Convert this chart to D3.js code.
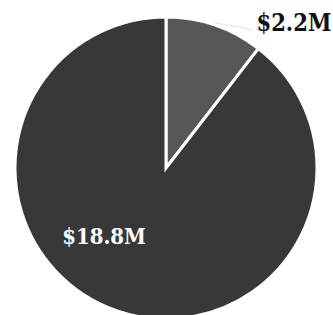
<!DOCTYPE html>
<html>
<head>
<meta charset="utf-8">
<script src="https://cdn.jsdelivr.net/npm/d3@7"></script>
<style>
  body { margin: 0; background: #fff; }
  svg { display: block; }
</style>
</head>
<body>
<div id="chart"></div>
<script>
const width = 333;
const height = 315;

// data
const labels = ['$2.2M', '$18.8M'];
const values = [2.2, 18.8];
const colors = ['#575757', '#383838'];

const cx = 166, cy = 168, radius = 151;

const svg = d3.select('#chart')
  .append('svg')
  .attr('width', width)
  .attr('height', height);

const g = svg.append('g')
  .attr('transform', `translate(${cx},${cy})`);

const pie = d3.pie().sort(null).value(d => d);
const arcs = pie(values);

const arc = d3.arc().innerRadius(0).outerRadius(radius);

g.selectAll('path')
  .data(arcs)
  .join('path')
  .attr('d', arc)
  .attr('fill', (d, i) => colors[i])
  .attr('stroke', '#fff')
  .attr('stroke-width', 3)
  .attr('stroke-linejoin', 'miter');

// leader line for small slice
const small = arcs[0];
const mid = (small.startAngle + small.endAngle) / 2;
const p0 = [Math.sin(mid) * (radius + 2), -Math.cos(mid) * (radius + 2)];
g.append('path')
  .attr('d', `M${p0[0]},${p0[1]} Q${p0[0] + 18},${p0[1] + 2} ${p0[0] + 37},${p0[1] + 7}`)
  .attr('fill', 'none')
  .attr('stroke', '#bbb')
  .attr('stroke-width', 0.8)
  .attr('stroke-dasharray', '1.5,1');

// labels
g.append('text')
  .attr('x', p0[0] + 41)
  .attr('y', p0[1] + 8)
  .text(labels[0])
  .style('font-family', 'DejaVu Serif Condensed, DejaVu Serif')
  .style('font-weight', 'bold')
  .style('font-size', '23.5px')
  .style('fill', '#111');

const bigLabelArc = d3.arc().innerRadius(radius * 0.62).outerRadius(radius * 0.62);
const ang = arcs[1].startAngle + (arcs[1].endAngle - arcs[1].startAngle) * 0.57;
const c = bigLabelArc.centroid({ startAngle: ang, endAngle: ang });
g.append('text')
  .attr('x', c[0])
  .attr('y', c[1] - 2)
  .attr('dy', '0.35em')
  .attr('text-anchor', 'middle')
  .text(labels[1])
  .style('font-family', 'DejaVu Serif Condensed, DejaVu Serif')
  .style('font-weight', 'bold')
  .style('font-size', '22px')
  .style('fill', '#fff');
</script>
</body>
</html>
